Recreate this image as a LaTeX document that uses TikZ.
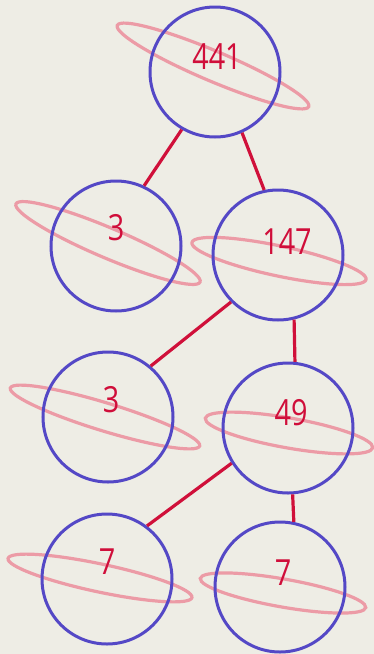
\documentclass[tikz,border=0pt]{standalone}
\usepackage{fontspec}
\setmainfont{Open Sans}
\usepackage{graphicx}
\definecolor{paper}{RGB}{238,237,229}
\definecolor{planet}{RGB}{84,72,198}
\definecolor{ringc}{RGB}{236,155,166}
\definecolor{branch}{RGB}{208,16,58}
\definecolor{numc}{RGB}{208,14,58}
\tikzset{
  planetbox/.style={draw=planet, line width=3pt, circle, minimum size=130pt, inner sep=0pt},
  ringline/.style={draw=ringc, line width=3.2pt},
  branchline/.style={draw=branch, line width=3.2pt},
  numtext/.style={text=numc, font=\fontsize{36}{40}\selectfont, inner sep=0pt},
}
\newcommand{\hnum}[1]{\scalebox{0.8}[1]{#1}}
\begin{document}
\begin{tikzpicture}[x=1pt, y=-1pt]
\fill[paper] (0,0) rectangle (374,654);
\useasboundingbox (0,0) rectangle (374,654);
% rings
\draw[ringline, rotate around={-23:(213,66)}] (213,66) ellipse [x radius=104pt, y radius=15pt];
\draw[ringline, rotate around={-23:(108,243)}] (108,243) ellipse [x radius=100pt, y radius=15pt];
\draw[ringline, rotate around={-12:(279,261)}] (279,261) ellipse [x radius=89pt, y radius=15pt];
\draw[ringline, rotate around={-17:(105,417)}] (105,417) ellipse [x radius=99pt, y radius=14pt];
\draw[ringline, rotate around={-10:(289,433)}] (289,433) ellipse [x radius=85pt, y radius=15pt];
\draw[ringline, rotate around={-12:(100,578)}] (100,578) ellipse [x radius=94pt, y radius=14pt];
\draw[ringline, rotate around={-10:(283,593)}] (283,593) ellipse [x radius=84pt, y radius=14pt];
% planets
\node[planetbox] (p441) at (215,72) {};
\node[planetbox] (p3a) at (116,246) {};
\node[planetbox] (p147) at (278,255) {};
\node[planetbox] (p3b) at (108,417) {};
\node[planetbox] (p49) at (288,428) {};
\node[planetbox] (p7a) at (107,579) {};
\node[planetbox] (p7b) at (280,587) {};
% numbers
\node[numtext] (t441) at (217,57) {\hnum{441}};
\node[numtext] (t3a) at (116,228) {\hnum{3}};
\node[numtext] (t147) at (287,242) {\hnum{147}};
\node[numtext] (t3b) at (111,400) {\hnum{3}};
\node[numtext] (t49) at (291,413) {\hnum{49}};
\node[numtext] (t7a) at (107,562) {\hnum{7}};
\node[numtext] (t7b) at (283,573) {\hnum{7}};
% branches
\draw[branchline] (p441.240) -- (p3a.65);
\draw[branchline] (p441.294) -- (p147.102);
\draw[branchline] (p147.225) -- (p3b.50);
\draw[branchline] (p147.284) -- (p49.84);
\draw[branchline] (p49.212) -- (p7a.53);
\draw[branchline] (p49.274) -- (p7b.78);
\end{tikzpicture}
\end{document}
